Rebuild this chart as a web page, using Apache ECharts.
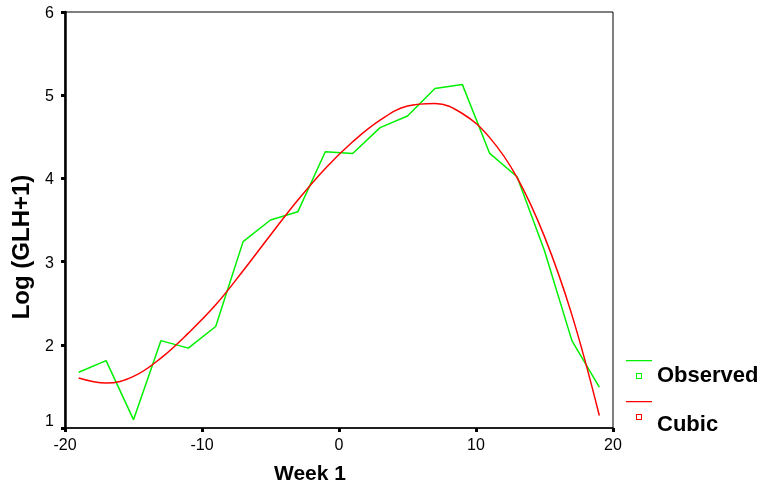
<!DOCTYPE html>
<html>
<head>
<meta charset="utf-8">
<script src="https://cdn.jsdelivr.net/npm/echarts@6/dist/echarts.min.js"></script>
<style>
  html, body { margin: 0; padding: 0; background: #fff; }
  #chart { width: 765px; height: 490px; }
</style>
</head>
<body>
<div id="chart"></div>
<script>
// weeks (x) and values
const weeks = [-19, -17, -15, -13, -11, -9, -7, -5, -3, -1, 1, 3, 5, 7, 9, 11, 13, 15, 17, 19];
const observed = [1.67, 1.81, 1.10, 2.05, 1.96, 2.22, 3.24, 3.50, 3.60, 4.32, 4.30, 4.61, 4.75, 5.08, 5.13, 4.30, 4.02, 3.13, 2.05, 1.49];
const cubic = [1.60, 1.54, 1.62, 1.84, 2.14, 2.48, 2.89, 3.32, 3.74, 4.12, 4.44, 4.70, 4.87, 4.90, 4.78, 4.49, 4.01, 3.30, 2.36, 1.15];
const xTicks = [-20, -10, 0, 10, 20];
const yTicks = [1, 2, 3, 4, 5, 6];

const font = "'Liberation Sans', Arial, sans-serif";

// legend icon: short line on top, small hollow square below.
// the last empty point only stretches the box so the label sits lower
function legendIcon(bottom) {
  return "path://M0,0 L26,0 L26,1.3 L0,1.3 Z " +
    "M10,13 L16,13 L16,19 L10,19 Z M11,14 L11,18 L15,18 L15,14 Z " +
    "M0," + bottom + " L0," + bottom;
}

const legendText = {
  fontFamily: font,
  fontSize: 22,
  fontWeight: "bold",
  color: "#000",
};

const option = {
  animation: false,
  backgroundColor: "#fff",
  grid: {
    left: 65,
    right: 152,
    top: 12,
    bottom: 60,
    show: true,
    borderColor: "#000",
    borderWidth: 1,
  },
  legend: [
    {
      data: ["Observed"],
      left: 626,
      top: 360,
      padding: 0,
      icon: legendIcon(32),
      itemWidth: 26,
      itemHeight: 32,
      selectedMode: false,
      itemStyle: { borderWidth: 0 },
      textStyle: legendText,
    },
    {
      data: ["Cubic"],
      left: 626,
      top: 401,
      padding: 0,
      icon: legendIcon(47),
      itemWidth: 26,
      itemHeight: 47,
      selectedMode: false,
      itemStyle: { borderWidth: 0 },
      textStyle: legendText,
    },
  ],
  xAxis: {
    type: "value",
    min: xTicks[0],
    max: xTicks[xTicks.length - 1],
    interval: 10,
    name: "Week 1",
    nameLocation: "middle",
    nameGap: 36,
    nameTextStyle: {
      fontFamily: font,
      fontSize: 21,
      fontWeight: "bold",
      color: "#000",
      padding: [0, 58, 0, 0],
    },
    splitLine: { show: false },
    axisLine: { onZero: false, lineStyle: { color: "#000", width: 1.5 } },
    axisTick: { length: 4, lineStyle: { color: "#000", width: 3 } },
    axisLabel: {
      margin: 10,
      fontFamily: font,
      fontSize: 16,
      color: "#000",
    },
  },
  yAxis: {
    type: "value",
    min: yTicks[0],
    max: yTicks[yTicks.length - 1],
    interval: 1,
    name: "Log (GLH+1)",
    nameLocation: "middle",
    nameRotate: 90,
    nameGap: 31,
    nameTextStyle: {
      fontFamily: font,
      fontSize: 24,
      fontWeight: "bold",
      color: "#000",
      padding: [0, 54, 0, 0],
    },
    splitLine: { show: false },
    axisLine: { show: true, onZero: false, lineStyle: { color: "#000", width: 2.5 } },
    axisTick: { show: true, length: 4, lineStyle: { color: "#000", width: 3 } },
    axisLabel: {
      margin: 11,
      fontFamily: font,
      fontSize: 16,
      color: "#000",
      padding: [3, 0, 0, 0],
      // the lowest label sits a bit above its tick, as in the original
      formatter: (v) => (v === yTicks[0] ? "{low|" + v + "}" : String(v)),
      rich: {
        low: { fontFamily: font, fontSize: 16, color: "#000", padding: [0, 0, 16, 0] },
      },
    },
  },
  series: [
    {
      name: "Observed",
      type: "line",
      data: weeks.map((w, i) => [w, observed[i]]),
      showSymbol: false,
      color: "#00f000",
      lineStyle: { color: "#00f000", width: 1.5 },
    },
    {
      name: "Cubic",
      type: "line",
      data: weeks.map((w, i) => [w, cubic[i]]),
      smooth: 0.4,
      showSymbol: false,
      color: "#ff0000",
      lineStyle: { color: "#ff0000", width: 1.5 },
    },
  ],
};

const E = echarts.init(document.getElementById("chart"));
E.setOption(option);
</script>
</body>
</html>
